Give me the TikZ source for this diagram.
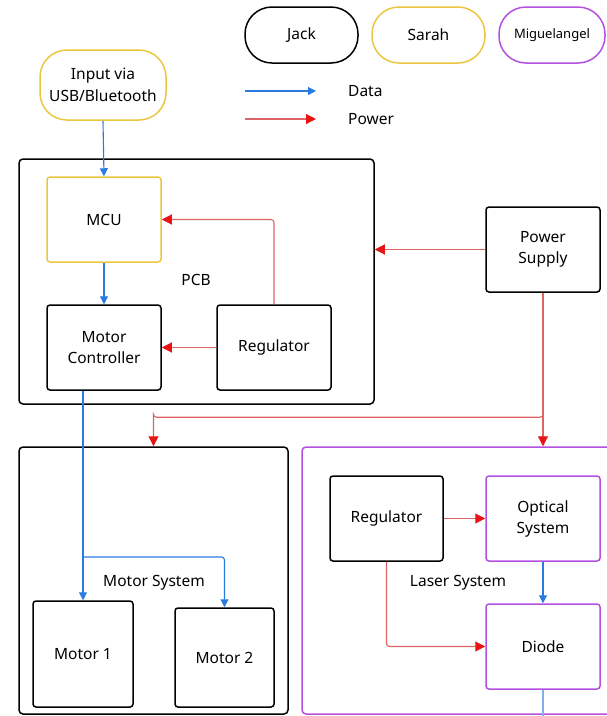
\documentclass[tikz,border=0pt]{standalone}
\usepackage{fontspec}
\setmainfont{Noto Sans}
\usetikzlibrary{arrows.meta,calc}
\definecolor{cyel}{HTML}{EBC640}
\definecolor{cpur}{HTML}{B450E0}
\definecolor{cblue}{HTML}{2A7BE0}
\definecolor{cred}{HTML}{DC6464}
\definecolor{ctip}{HTML}{E51515}
\tikzset{
  box/.style={draw=black, line width=1.5pt, rounded corners=3pt, inner sep=0pt, align=center, font=\fontsize{15.5}{21}\selectfont},
  group/.style={draw=black, line width=1.5pt, rounded corners=4pt, inner sep=0pt},
  pill/.style={draw=black, line width=1.5pt, rounded corners=27pt, inner sep=0pt, align=center, font=\fontsize{15.5}{22}\selectfont},
  lbl/.style={inner sep=0pt, font=\fontsize{15.5}{21}\selectfont},
  data/.style={draw=cblue, line width=1.1pt, rounded corners=3pt, -{Triangle[length=8pt,width=8pt,color=cblue]}},
  pow/.style={draw=cred, line width=1.1pt, rounded corners=3pt, -{Triangle[length=10pt,width=10pt,color=ctip]}},
}
\begin{document}
\begin{tikzpicture}[x=1pt,y=-1pt]
\useasboundingbox (0,0) rectangle (607,716);
% legend pills
\node[pill, minimum width=113pt, minimum height=56pt] (jack) at (301.5,35) {Jack};
\node[pill, draw=cyel, minimum width=113pt, minimum height=56pt] (sarah) at (428.5,35) {Sarah};
\node[pill, draw=cpur, minimum width=106pt, minimum height=56pt, font=\fontsize{13}{16}\selectfont] (miguel) at (552,35) {Miguelangel};
% legend arrows
\coordinate (ld1) at (245,91);
\coordinate (ld2) at (316,91);
\coordinate (lp1) at (245,119);
\coordinate (lp2) at (316,119);
\draw[data] (ld1) -- (ld2);
\draw[pow] (lp1) -- (lp2);
\node[lbl, anchor=west] (ldata) at (348,91) {Data};
\node[lbl, anchor=west] (lpow) at (348,119) {Power};
% input
\node[pill, draw=cyel, minimum width=126pt, minimum height=70pt] (input) at (103,85) {Input via\\USB/Bluetooth};
% groups
\node[group, minimum width=355pt, minimum height=245pt] (pcb) at (196.5,281.5) {};
\node[group, minimum width=269pt, minimum height=267pt] (ms) at (153.5,580.5) {};
\node[group, draw=cpur, minimum width=318pt, minimum height=267pt] (ls) at (461,580.5) {};
\node[lbl] (pcbl) at (196,280) {PCB};
\node[lbl] (msl) at (154,583) {Motor System};
\node[lbl] (lsl) at (458,583) {Laser System};
% PCB blocks
\node[box, draw=cyel, minimum width=114pt, minimum height=85pt] (mcu) at (104,219.5) {MCU};
\node[box, minimum width=114pt, minimum height=85pt] (mc) at (104,347.5) {Motor\\Controller};
\node[box, minimum width=114pt, minimum height=85pt] (reg) at (274,347.5) {Regulator};
\node[box, minimum width=114pt, minimum height=85pt] (ps) at (543,249.5) {Power\\Supply};
% motors
\node[box, minimum width=100pt, minimum height=106pt] (m1) at (83,654) {Motor 1};
\node[box, minimum width=99pt, minimum height=99pt] (m2) at (224.5,657.5) {Motor 2};
% laser
\node[box, minimum width=113pt, minimum height=85pt] (lreg) at (386.5,518.5) {Regulator};
\node[box, draw=cpur, minimum width=114pt, minimum height=85pt] (opt) at (543,518.5) {Optical\\System};
\node[box, draw=cpur, minimum width=114pt, minimum height=85pt] (diode) at (543,646.5) {Diode};
% connectors
\draw[data] (input.south) -- (mcu.north);
\draw[data] (mcu.south) -- (mc.north);
\draw[pow] (reg.north) |- (mcu.east);
\draw[pow] (reg.west) -- (mc.east);
\draw[pow] (ps.west) -- (ps.west -| pcb.east);
\draw[pow] (ps.south) |- ($(ms.north)+(0,-29)$) -| (ms.north);
\draw[pow] (ps.south) -- (ps.south |- ls.north);
\coordinate (br) at (83,557);
\draw[data] (mc.south -| m1.north) -- (m1.north);
\draw[data] (br) -| (m2.north);
\draw[pow] (lreg.east) -- (opt.west);
\draw[pow] (lreg.south) |- (diode.west);
\draw[data] (opt.south) -- (diode.north);
\coordinate (dend) at (543,716);
\draw[draw=cblue!60, line width=1.1pt] (diode.south) -- (dend);
\end{tikzpicture}
\end{document}
